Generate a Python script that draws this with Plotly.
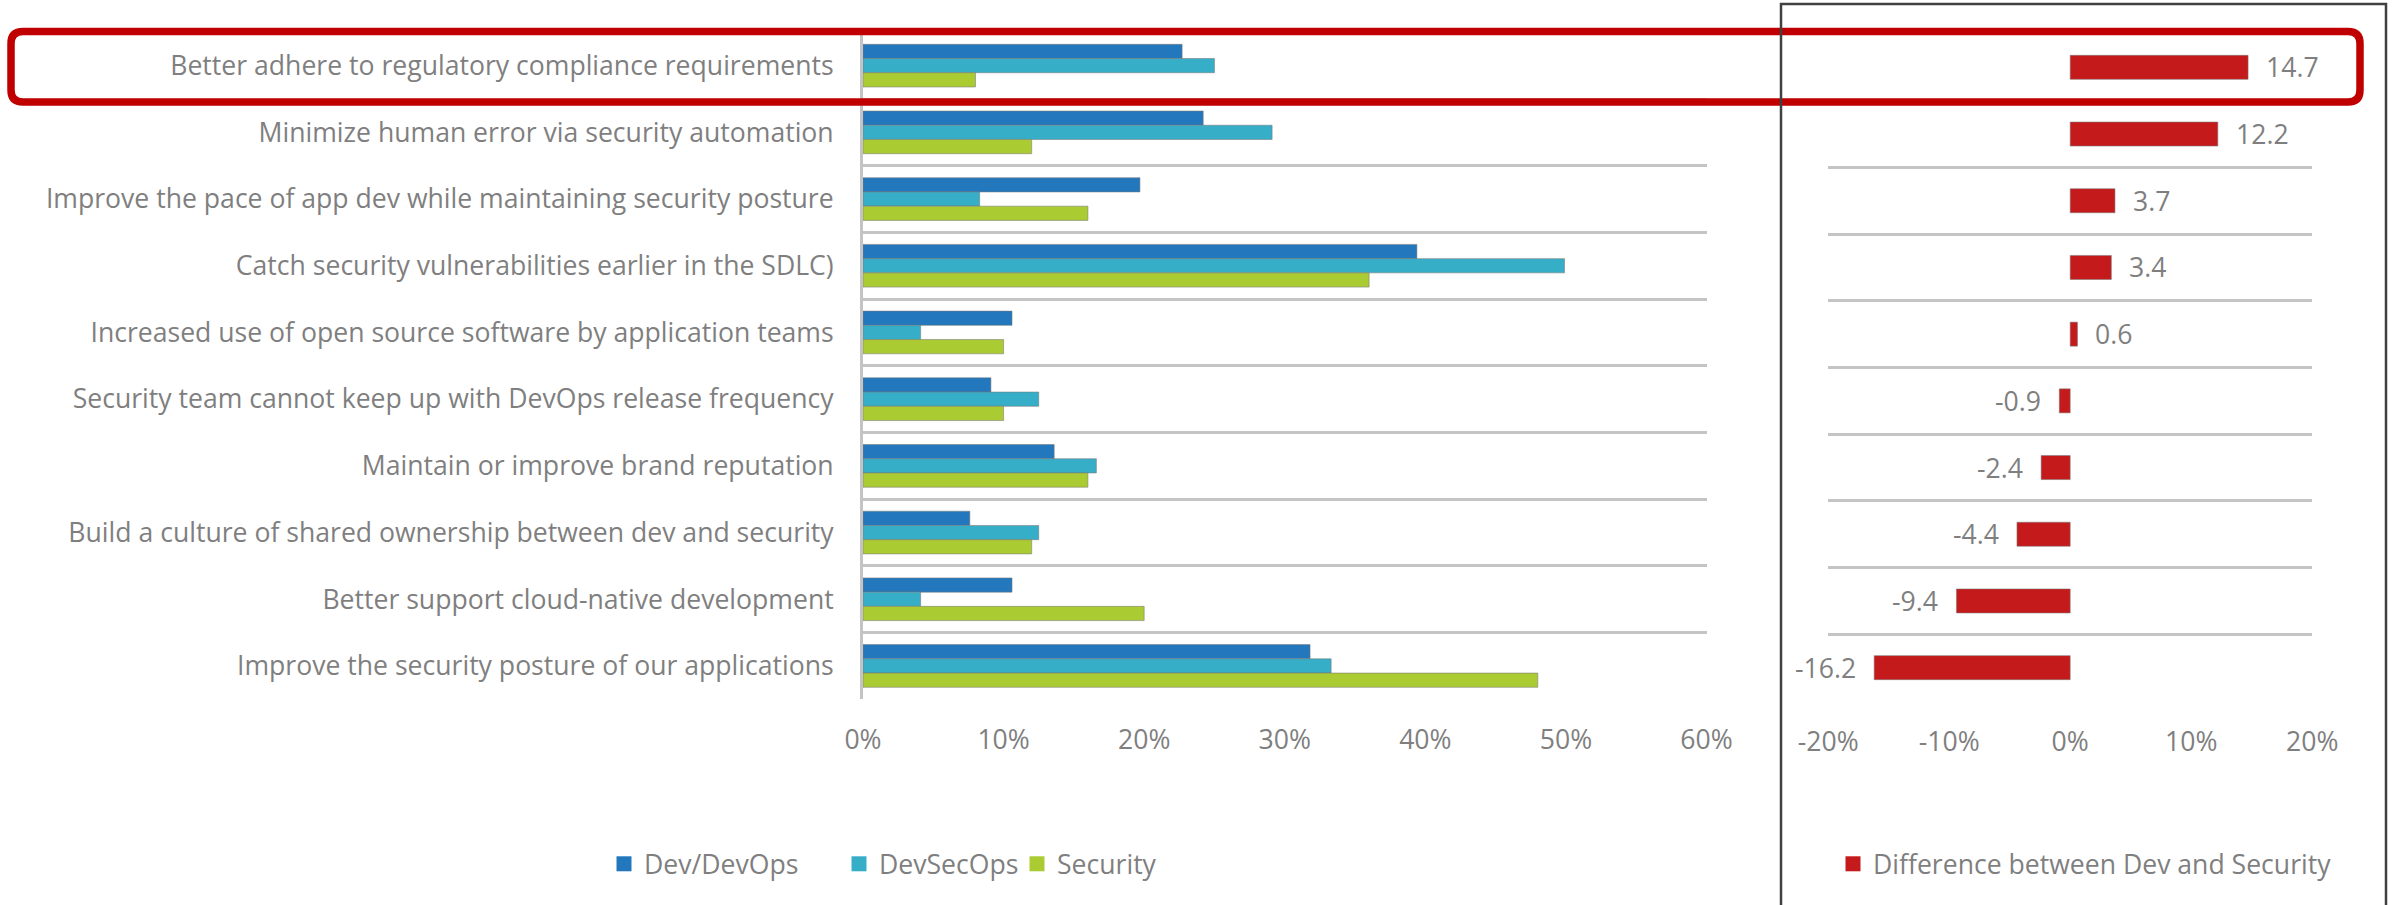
import plotly.graph_objects as go

W, H = 2392, 905

categories = [
    "Better adhere to regulatory compliance requirements",
    "Minimize human error via security automation",
    "Improve the pace of app dev while maintaining security posture",
    "Catch security vulnerabilities earlier in the SDLC)",
    "Increased use of open source software by application teams",
    "Security team cannot keep up with DevOps release frequency",
    "Maintain or improve brand reputation",
    "Build a culture of shared ownership between dev and security",
    "Better support cloud-native development",
    "Improve the security posture of our applications",
]

dev_devops = [22.7, 24.2, 19.7, 39.4, 10.6, 9.1, 13.6, 7.6, 10.6, 31.8]
devsecops = [25.0, 29.1, 8.3, 49.9, 4.1, 12.5, 16.6, 12.5, 4.1, 33.3]
security = [8.0, 12.0, 16.0, 36.0, 10.0, 10.0, 16.0, 12.0, 20.0, 48.0]
difference = [14.7, 12.2, 3.7, 3.4, 0.6, -0.9, -2.4, -4.4, -9.4, -16.2]

left_ticks = [0, 10, 20, 30, 40, 50, 60]
left_ticktext = ["0%", "10%", "20%", "30%", "40%", "50%", "60%"]
right_ticks = [-20, -10, 0, 10, 20]
right_ticktext = ["-20%", "-10%", "0%", "10%", "20%"]

FONT = "Open Sans"
GRAY = "#7f7f7f"
FS = 26.6
OUTLINE = dict(color="rgba(120,120,120,0.55)", width=1)


def px_x(p):
    return p / W


def px_y(p):
    return 1 - p / H


fig = go.Figure()

series = [
    ("Dev/DevOps", dev_devops, "#2378bd", "legend"),
    ("DevSecOps", devsecops, "#36aec8", "legend2"),
    ("Security", security, "#abcb33", "legend3"),
    ("Difference between Dev and Security", difference, "#c51a1b", "legend4"),
]

for name, vals, color, leg in series[:3]:
    fig.add_trace(go.Bar(
        name=name, y=categories, x=vals, orientation="h",
        marker=dict(color=color, line=OUTLINE),
        xaxis="x", yaxis="y", showlegend=False, hoverinfo="x+name",
    ))

fig.add_trace(go.Bar(
    name=series[3][0], y=categories, x=difference,
    orientation="h", width=0.36,
    marker=dict(color=series[3][2], line=OUTLINE),
    xaxis="x2", yaxis="y2", showlegend=False,
))

# square swatches for the legends
for name, _, color, leg in series:
    fig.add_trace(go.Scatter(
        name=name, x=[None], y=[None], mode="markers",
        marker=dict(symbol="square", size=15, color=color),
        xaxis="x", yaxis="y", legend=leg, showlegend=True,
    ))

# value labels beside the difference bars
annotations = []
for cat, v in zip(categories, difference):
    annotations.append(dict(
        x=v, y=cat, xref="x2", yref="y2", text=f"{v:.1f}", showarrow=False,
        xanchor="left" if v >= 0 else "right", xshift=16 if v >= 0 else -16,
        font=dict(family=FONT, size=FS, color=GRAY),
    ))

grid = dict(showgrid=True, gridcolor="#c4c4c4", gridwidth=3)

leg_common = dict(
    orientation="h", yanchor="middle", xanchor="left", y=px_y(864),
    font=dict(family=FONT, size=FS, color=GRAY), bgcolor="rgba(0,0,0,0)",
    borderwidth=0, itemsizing="trace",
)

# rounded highlight frame around the first row
x0, x1, y0, y1 = 11, 2360, 31.5, 102
r = 12
path = (
    f"M {px_x(x0 + r)},{px_y(y0)} L {px_x(x1 - r)},{px_y(y0)} "
    f"Q {px_x(x1)},{px_y(y0)} {px_x(x1)},{px_y(y0 + r)} "
    f"L {px_x(x1)},{px_y(y1 - r)} Q {px_x(x1)},{px_y(y1)} {px_x(x1 - r)},{px_y(y1)} "
    f"L {px_x(x0 + r)},{px_y(y1)} Q {px_x(x0)},{px_y(y1)} {px_x(x0)},{px_y(y1 - r)} "
    f"L {px_x(x0)},{px_y(y0 + r)} Q {px_x(x0)},{px_y(y0)} {px_x(x0 + r)},{px_y(y0)} Z"
)
box_path = (
    f"M {px_x(1781)},{px_y(910)} L {px_x(1781)},{px_y(4)} "
    f"L {px_x(2386)},{px_y(4)} L {px_x(2386)},{px_y(910)}"
)

fig.update_layout(
    width=W, height=H, autosize=False,
    margin=dict(l=0, r=0, t=0, b=0),
    paper_bgcolor="white", plot_bgcolor="white",
    font=dict(family=FONT, size=FS, color=GRAY),
    barmode="group", bargap=0.36, bargroupgap=0,
    xaxis=dict(
        domain=[px_x(863), px_x(1706.5)], range=[0, 60],
        tickvals=left_ticks, ticktext=left_ticktext,
        showgrid=False, zeroline=False, showline=False,
        ticklabelstandoff=22, automargin=False, anchor="y",
        tickfont=dict(family=FONT, size=FS, color=GRAY),
    ),
    yaxis=dict(
        domain=[px_y(699.3), px_y(32.3)], type="category",
        categoryorder="array", categoryarray=categories, autorange="reversed",
        tickson="boundaries", ticks="", showline=True, linecolor="#c4c4c4",
        linewidth=3, ticklabelstandoff=21, automargin=False, anchor="x",
        tickfont=dict(family=FONT, size=FS, color=GRAY), **grid,
    ),
    xaxis2=dict(
        domain=[px_x(1828.2), px_x(2312.2)], range=[-20, 20],
        tickvals=right_ticks, ticktext=right_ticktext,
        showgrid=False, zeroline=False, showline=False,
        ticklabelstandoff=22, automargin=False, anchor="y2",
        tickfont=dict(family=FONT, size=FS, color=GRAY),
    ),
    yaxis2=dict(
        domain=[px_y(701), px_y(34)], type="category",
        categoryorder="array", categoryarray=categories, autorange="reversed",
        tickson="boundaries", ticks="", showline=False, showticklabels=False,
        automargin=False, anchor="x2", **grid,
    ),
    legend=dict(x=px_x(604), **leg_common),
    legend2=dict(x=px_x(839), **leg_common),
    legend3=dict(x=px_x(1017), **leg_common),
    legend4=dict(x=px_x(1833), **leg_common),
    annotations=annotations,
    shapes=[
        dict(type="path", path=path, xref="paper", yref="paper",
             line=dict(color="#c00000", width=7.5), layer="above"),
        dict(type="path", path=box_path, xref="paper", yref="paper",
             line=dict(color="#404040", width=2.5), layer="above"),
    ],
    showlegend=True,
)

fig.write_html("out.html")
